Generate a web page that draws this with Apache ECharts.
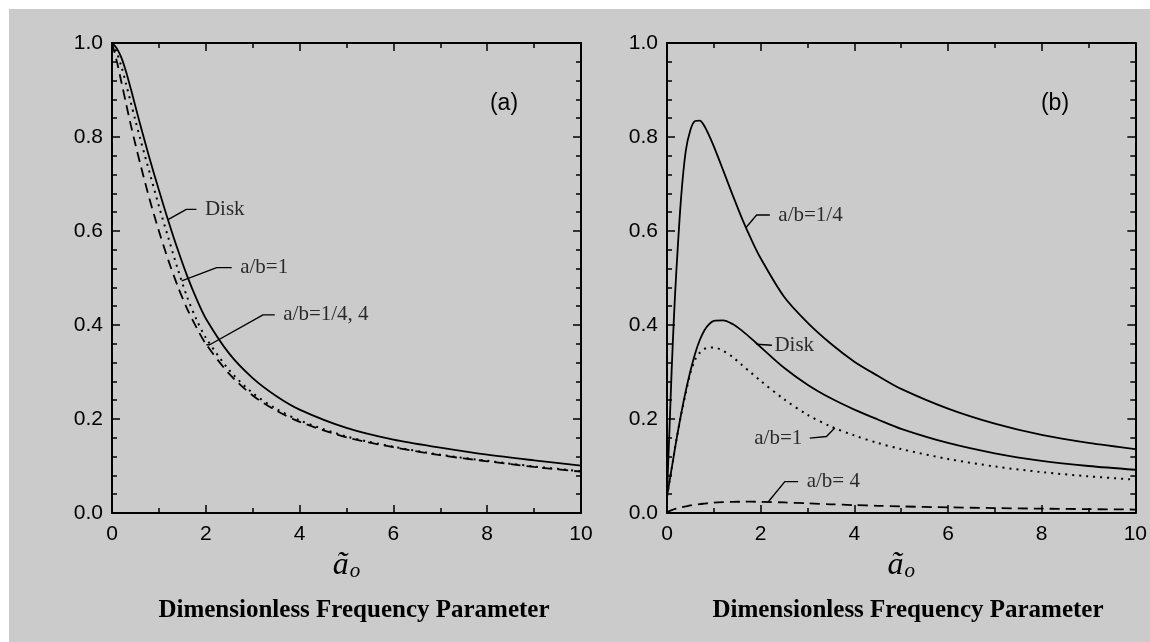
<!DOCTYPE html>
<html>
<head>
<meta charset="utf-8">
<script src="https://cdn.jsdelivr.net/npm/echarts@6/dist/echarts.min.js"></script>
<style>
  html, body { margin: 0; padding: 0; background: #ffffff; }
  #chart { position: absolute; left: 9px; top: 9px; width: 1141px; height: 633px; background: #cbcbcb; }
</style>
</head>
<body>
<div id="chart"></div>
<script>
// ---- Panel (a): normalised response vs. dimensionless frequency ----
const freqA = [0, 0.1, 0.2, 0.3, 0.4, 0.5, 0.6, 0.8, 1.0, 1.2, 1.4, 1.6, 1.8, 2.0, 2.5, 3.0, 3.5, 4.0, 5, 6, 7, 8, 9, 10];
const diskA = [1.0, 0.989, 0.969, 0.939, 0.903, 0.865, 0.827, 0.755, 0.687, 0.622, 0.561, 0.505, 0.456, 0.414, 0.339, 0.287, 0.249, 0.220, 0.181, 0.156, 0.139, 0.124, 0.112, 0.101];
const ratio1A = [1.0, 0.98, 0.95, 0.913, 0.874, 0.835, 0.797, 0.725, 0.653, 0.586, 0.52, 0.46, 0.412, 0.373, 0.304, 0.255, 0.222, 0.197, 0.163, 0.141, 0.124, 0.111, 0.099, 0.089];
const ratioQuarterFourA = [1.0, 0.962, 0.917, 0.871, 0.826, 0.784, 0.744, 0.668, 0.6, 0.538, 0.483, 0.435, 0.395, 0.36, 0.296, 0.25, 0.218, 0.194, 0.161, 0.14, 0.123, 0.11, 0.098, 0.088];

// ---- Panel (b) ----
const freqB = [0, 0.05, 0.1, 0.15, 0.2, 0.3, 0.4, 0.5, 0.6, 0.7, 0.8, 0.9, 1.0, 1.2, 1.4, 1.6, 1.8, 2.0, 2.5, 3.0, 3.5, 4.0, 4.5, 5, 6, 7, 8, 9, 10];
const ratioQuarterB = [0.04, 0.17, 0.305, 0.42, 0.515, 0.67, 0.77, 0.815, 0.834, 0.835, 0.823, 0.803, 0.78, 0.729, 0.677, 0.627, 0.582, 0.542, 0.46, 0.405, 0.36, 0.322, 0.292, 0.264, 0.222, 0.19, 0.166, 0.149, 0.136];
const diskB = [0.035, 0.065, 0.095, 0.125, 0.155, 0.21, 0.259, 0.302, 0.339, 0.368, 0.389, 0.402, 0.409, 0.410, 0.402, 0.388, 0.371, 0.353, 0.309, 0.273, 0.244, 0.220, 0.199, 0.179, 0.149, 0.127, 0.111, 0.100, 0.092];
const ratio1B = [0.035, 0.065, 0.095, 0.125, 0.155, 0.208, 0.255, 0.298, 0.326, 0.341, 0.349, 0.352, 0.352, 0.345, 0.332, 0.315, 0.298, 0.281, 0.242, 0.209, 0.184, 0.165, 0.149, 0.136, 0.115, 0.099, 0.087, 0.078, 0.071];
const ratio4B = [0.002, 0.004, 0.006, 0.008, 0.0095, 0.012, 0.014, 0.016, 0.0175, 0.019, 0.020, 0.021, 0.022, 0.023, 0.0237, 0.024, 0.024, 0.0238, 0.0225, 0.0205, 0.0185, 0.0168, 0.0153, 0.014, 0.012, 0.0105, 0.0092, 0.0082, 0.0073];

// ---- Axis text ----
const xTickLabels = ['0', '2', '4', '6', '8', '10'];
const yTickLabels = ['0.0', '0.2', '0.4', '0.6', '0.8', '1.0'];
const panelTags = ['(a)', '(b)'];
const xAxisTitle = 'Dimensionless Frequency Parameter';

// Curve callouts: leader polyline in data units, ending where the text begins
const calloutsA = [
  { text: 'Disk', side: 'right', gap: 8, path: [[1.194, 0.624], [1.586, 0.646], [1.80, 0.646]] },
  { text: 'a/b=1', side: 'right', gap: 8, path: [[1.486, 0.494], [2.232, 0.522], [2.552, 0.522]] },
  { text: 'a/b=1/4, 4', side: 'right', gap: 8, path: [[2.013, 0.358], [2.083, 0.358], [3.22, 0.4216], [3.47, 0.4216]] }
];
const calloutsB = [
  { text: 'a/b=1/4', side: 'right', gap: 8, path: [[1.684, 0.607], [1.913, 0.634], [2.196, 0.634]] },
  { text: 'Disk', side: 'right', gap: 2, path: [[1.913, 0.359], [2.24, 0.357]] },
  { text: 'a/b=1', side: 'left', gap: 7, path: [[3.582, 0.181], [3.405, 0.1627], [3.049, 0.1593]] },
  { text: 'a/b= 4', side: 'right', gap: 8, path: [[2.16, 0.0235], [2.516, 0.0667], [2.80, 0.0667]] }
];

const INK = '#000000';
const SANS = '"Liberation Sans", Arial, sans-serif';
const SERIF = '"Liberation Serif", "Times New Roman", serif';

const zip = (xs, ys) => xs.map((x, i) => [x, ys[i]]);

function xAxisPair(gridIndex) {
  const base = {
    gridIndex, type: 'value', min: 0, max: 10, interval: 2,
    axisLine: { show: true, onZero: false, lineStyle: { color: INK, width: 2 } },
    axisTick: { show: true, inside: true, length: 8, lineStyle: { color: INK, width: 1.5 } },
    minorTick: { show: true, splitNumber: 2, length: 5, lineStyle: { color: INK, width: 1.5 } },
    splitLine: { show: false }, minorSplitLine: { show: false }
  };
  return [
    Object.assign({}, base, {
      position: 'bottom',
      axisLabel: {
        color: INK, fontSize: 21, fontFamily: SANS, margin: 11,
        formatter: v => xTickLabels[Math.round(v / 2)]
      },
      name: '{a|ã}{o|o}',
      nameLocation: 'middle',
      nameGap: 27,
      nameTextStyle: {
        rich: {
          a: { fontFamily: SERIF, fontStyle: 'italic', fontSize: 32, color: INK, verticalAlign: 'bottom', lineHeight: 32 },
          o: { fontFamily: SERIF, fontStyle: 'italic', fontSize: 21, color: INK, verticalAlign: 'bottom', lineHeight: 21, padding: [10, 0, 0, 1] }
        }
      }
    }),
    Object.assign({}, base, { position: 'top', axisLabel: { show: false } })
  ];
}

function yAxisPair(gridIndex) {
  const base = {
    gridIndex, type: 'value', min: 0, max: 1, interval: 0.2,
    axisLine: { show: true, onZero: false, lineStyle: { color: INK, width: 2 } },
    axisTick: { show: true, inside: true, length: 8, lineStyle: { color: INK, width: 1.5 } },
    minorTick: { show: true, splitNumber: 5, length: 5, lineStyle: { color: INK, width: 1.5 } },
    splitLine: { show: false }, minorSplitLine: { show: false }
  };
  return [
    Object.assign({}, base, {
      position: 'left',
      axisLabel: {
        color: INK, fontSize: 21, fontFamily: SANS, margin: 9,
        formatter: v => yTickLabels[Math.round(v / 0.2)]
      }
    }),
    Object.assign({}, base, { position: 'right', axisLabel: { show: false } })
  ];
}

function curve(name, xs, ys, axisIdx, dash, width) {
  return {
    name, type: 'line', xAxisIndex: axisIdx, yAxisIndex: axisIdx,
    data: zip(xs, ys), showSymbol: false, symbol: 'none',
    smooth: 0.3, silent: true, z: 3,
    lineStyle: { color: INK, width: width || 1.8, type: dash || 'solid', cap: 'butt' }
  };
}

function calloutSeries(list, axisIdx) {
  const out = [];
  list.forEach((c, i) => {
    out.push({
      name: 'leader-' + axisIdx + '-' + i, type: 'line',
      xAxisIndex: axisIdx, yAxisIndex: axisIdx,
      data: c.path, symbol: 'none', smooth: false, silent: true, z: 4,
      lineStyle: { color: INK, width: 1.4 }
    });
  });
  out.push({
    name: 'callout-text-' + axisIdx, type: 'scatter',
    xAxisIndex: axisIdx, yAxisIndex: axisIdx, silent: true, z: 5,
    symbolSize: 1, itemStyle: { color: 'rgba(0,0,0,0)' },
    data: list.map(c => ({
      value: c.path[c.path.length - 1],
      label: {
        show: true, position: c.side, distance: c.gap, formatter: c.text,
        color: INK, fontFamily: SERIF, fontSize: 21
      }
    }))
  });
  return out;
}

// Long dashes for the a/b=1/4,4 and a/b=4 curves, fine dots for a/b=1
const DASH = [10, 6];
const DOT = [2, 5];

const xA = xAxisPair(0), xB = xAxisPair(1);
const yA = yAxisPair(0), yB = yAxisPair(1);

const option = {
  backgroundColor: 'transparent',
  animation: false,
  grid: [
    { left: 103, top: 34, width: 469, height: 470, containLabel: false },
    { left: 658, top: 34, width: 469, height: 470, containLabel: false }
  ],
  xAxis: [xA[0], xB[0], xA[1], xB[1]],
  yAxis: [yA[0], yB[0], yA[1], yB[1]],
  title: [
    { text: panelTags[0], left: 490, top: 78, textAlign: 'center',
      textStyle: { fontFamily: SANS, fontSize: 23, fontWeight: 'normal', color: INK } },
    { text: panelTags[1], left: 1041, top: 78, textAlign: 'center',
      textStyle: { fontFamily: SANS, fontSize: 23, fontWeight: 'normal', color: INK } },
    { text: xAxisTitle, left: 340, top: 584, textAlign: 'center',
      textStyle: { fontFamily: SERIF, fontSize: 25, fontWeight: 'bold', color: INK } },
    { text: xAxisTitle, left: 894, top: 584, textAlign: 'center',
      textStyle: { fontFamily: SERIF, fontSize: 25, fontWeight: 'bold', color: INK } }
  ],
  series: [
    curve('Disk (a)', freqA, diskA, 0),
    curve('a/b=1 (a)', freqA, ratio1A, 0, DOT, 2),
    curve('a/b=1/4, 4 (a)', freqA, ratioQuarterFourA, 0, DASH),
    curve('a/b=1/4 (b)', freqB, ratioQuarterB, 1),
    curve('Disk (b)', freqB, diskB, 1),
    curve('a/b=1 (b)', freqB, ratio1B, 1, DOT, 2),
    curve('a/b=4 (b)', freqB, ratio4B, 1, DASH),
    ...calloutSeries(calloutsA, 0),
    ...calloutSeries(calloutsB, 1)
  ]
};

const chart = echarts.init(document.getElementById('chart'), null, { renderer: 'canvas' });
chart.setOption(option);
</script>
</body>
</html>
